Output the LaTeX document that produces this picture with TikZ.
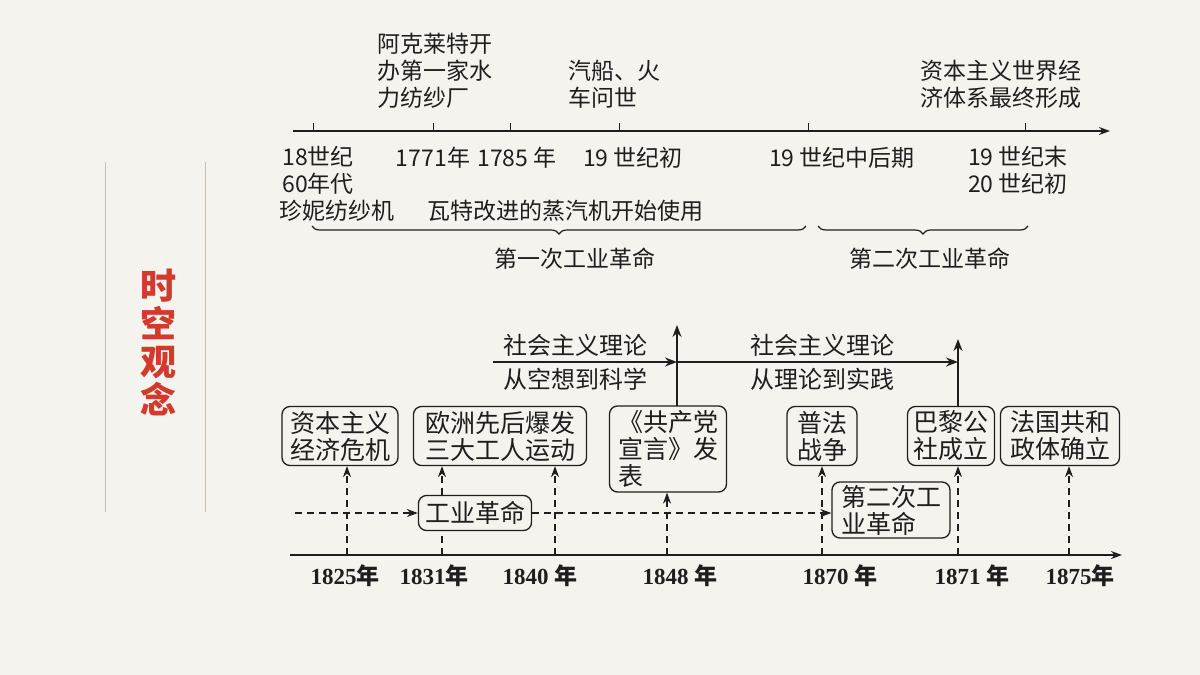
\documentclass[tikz,border=0pt]{standalone}
\usepackage{fontspec}
\setmainfont{Liberation Serif}
\newfontfamily\cjk{Noto Sans CJK SC}
\usetikzlibrary{arrows.meta,decorations.pathreplacing}
\definecolor{bg}{HTML}{F4F3EE}
\definecolor{ink}{HTML}{1E1E1E}
\definecolor{redt}{HTML}{D23A2C}
\definecolor{rule}{HTML}{C9BFB0}
\begin{document}
\begin{tikzpicture}[x=1pt,y=-1pt,
  txt/.style={inner sep=0pt,text=ink,font=\cjk\fontsize{23}{27}\selectfont,align=center},
  yr/.style={inner sep=0pt,text=ink,font=\bfseries\fontsize{23}{27}\selectfont},
  box/.style={draw=ink,line width=1.3pt,rounded corners=8pt,inner sep=1pt,text=ink,font=\cjk\fontsize{25}{27}\selectfont,align=center},
  axis/.style={draw=ink,line width=1.4pt,-{Stealth[length=11pt,width=8pt]}},
  dsh/.style={draw=ink,line width=1.1pt,dash pattern=on 7pt off 5pt},
  dar/.style={dsh,-{Stealth[length=11pt,width=8pt]}},
  sar/.style={draw=ink,line width=1.4pt,-{Stealth[length=12pt,width=9pt]}},
  brc/.style={draw=ink,line width=1.2pt,decorate,decoration={brace,mirror,amplitude=8pt}}]
\fill[bg] (0,0) rectangle (1200,675);
\useasboundingbox (0,0) rectangle (1200,675);
% left decoration
\draw[rule,line width=0.6pt] (105,162) -- (105,512);
\draw[rule,line width=0.6pt] (205,162) -- (205,512);
\node[inner sep=0pt,text=redt,font=\cjk\bfseries\fontsize{36}{38}\selectfont,align=center] (title) at (158,342) {时\\空\\观\\念};
% top timeline
\coordinate (ta) at (293,131); \coordinate (tb) at (1110,131);
\draw[axis] (ta) -- (tb);
\foreach \x/\n in {313/t1,433/t2,510/t3,619/t4,808/t5,1025/t6}{
  \coordinate (\n) at (\x,131);
  \draw[ink,line width=1pt] (\n) -- ++(0,-8);}
\node[txt] (l1) at (318,170) {18世纪\\60年代};
\node[txt] (l2) at (433,158) {1771年};
\node[txt] (l3) at (517,158) {1785 年};
\node[txt] (l4) at (633,158) {19 世纪初};
\node[txt] (l5) at (842,158) {19 世纪中后期};
\node[txt] (l6) at (1018,170) {19 世纪末\\20 世纪初};
\node[txt] (e1) at (337,211) {珍妮纺纱机};
\node[txt] (e2) at (565,211) {瓦特改进的蒸汽机开始使用};
\node[txt,align=left,anchor=north west] (u1) at (377,33) {阿克莱特开\\办第一家水\\力纺纱厂};
\node[txt,align=left,anchor=north west] (u2) at (568,60) {汽船、火\\车问世};
\node[txt,align=left,anchor=north west] (u3) at (920,60) {资本主义世界经\\济体系最终形成};
\coordinate (b1a) at (312,226); \coordinate (b1b) at (806,226);
\coordinate (b2a) at (818,226); \coordinate (b2b) at (1028,226);
\draw[brc] (b1a) -- (b1b);
\draw[brc] (b2a) -- (b2b);
\node[txt] (r1) at (575,259) {第一次工业革命};
\node[txt] (r2) at (930,259) {第二次工业革命};
% bottom timeline
\coordinate (ba) at (290,555); \coordinate (bb) at (1122,555);
\draw[axis] (ba) -- (bb);
\node[box,minimum width=116pt,minimum height=59pt] (k1) at (340,436) {资本主义\\经济危机};
\node[box,minimum width=173pt,minimum height=59pt] (k2) at (500,436) {欧洲先后爆发\\三大工人运动};
\node[box,align=left,minimum width=117pt,minimum height=86pt,inner sep=3pt] (k3) at (668,449) {《共产党\\宣言》发\\表};
\node[box,minimum width=70pt,minimum height=59pt] (k4) at (822,436) {普法\\战争};
\node[box,minimum width=87pt,minimum height=59pt] (k5) at (951,436) {巴黎公\\社成立};
\node[box,minimum width=119pt,minimum height=59pt] (k6) at (1060,436) {法国共和\\政体确立};
\node[box,minimum width=113pt,minimum height=35pt] (g1) at (475,513) {工业革命};
\node[box,align=left,minimum width=118pt,minimum height=56pt] (g2) at (891,510) {第二次工\\业革命};
\coordinate (d0) at (295,513);
\draw[dar] (d0) -- (g1.west);
\draw[dar] (g1.east) -- (g2.west |- g1.east);
\foreach \x/\n in {347/y1,442/y2,555/y3,667/y4,822/y5,958/y6,1069/y7}{\coordinate (\n) at (\x,555);}
\draw[dar] (y1) -- (y1 |- k1.south);
\draw[dsh] (y2) -- (y2 |- g1.south);
\draw[dar] (y2 |- g1.north) -- (y2 |- k2.south);
\draw[dar] (y3) -- (y3 |- k2.south);
\draw[dar] (y4) -- (y4 |- k3.south);
\draw[dar] (y5) -- (y5 |- k4.south);
\draw[dar] (y6) -- (y6 |- k5.south);
\draw[dar] (y7) -- (y7 |- k6.south);
\node[yr] at (345,576) {1825{\cjk 年}};
\node[yr] at (434,576) {1831{\cjk 年}};
\node[yr] at (540,576) {1840 {\cjk 年}};
\node[yr] at (680,576) {1848 {\cjk 年}};
\node[yr] at (840,576) {1870 {\cjk 年}};
\node[yr] at (972,576) {1871 {\cjk 年}};
\node[yr] at (1080,576) {1875{\cjk 年}};
% socialism arrows
\coordinate (s0) at (493,362);
\coordinate (s1) at (677,362);
\coordinate (s1t) at (677,325);
\coordinate (s2) at (958,362);
\coordinate (s2t) at (958,339);
\draw[sar] (677,406) -- (s1t);
\draw[sar] (s0) -- (s1);
\draw[sar] (s1) -- (s2);
\draw[sar] (958,406) -- (s2t);
\node[txt,font=\cjk\fontsize{24}{27}\selectfont] (m1) at (575,345) {社会主义理论};
\node[txt,font=\cjk\fontsize{24}{27}\selectfont] (m2) at (575,379) {从空想到科学};
\node[txt,font=\cjk\fontsize{24}{27}\selectfont] (m3) at (822,345) {社会主义理论};
\node[txt,font=\cjk\fontsize{24}{27}\selectfont] (m4) at (822,379) {从理论到实践};
\end{tikzpicture}
\end{document}
